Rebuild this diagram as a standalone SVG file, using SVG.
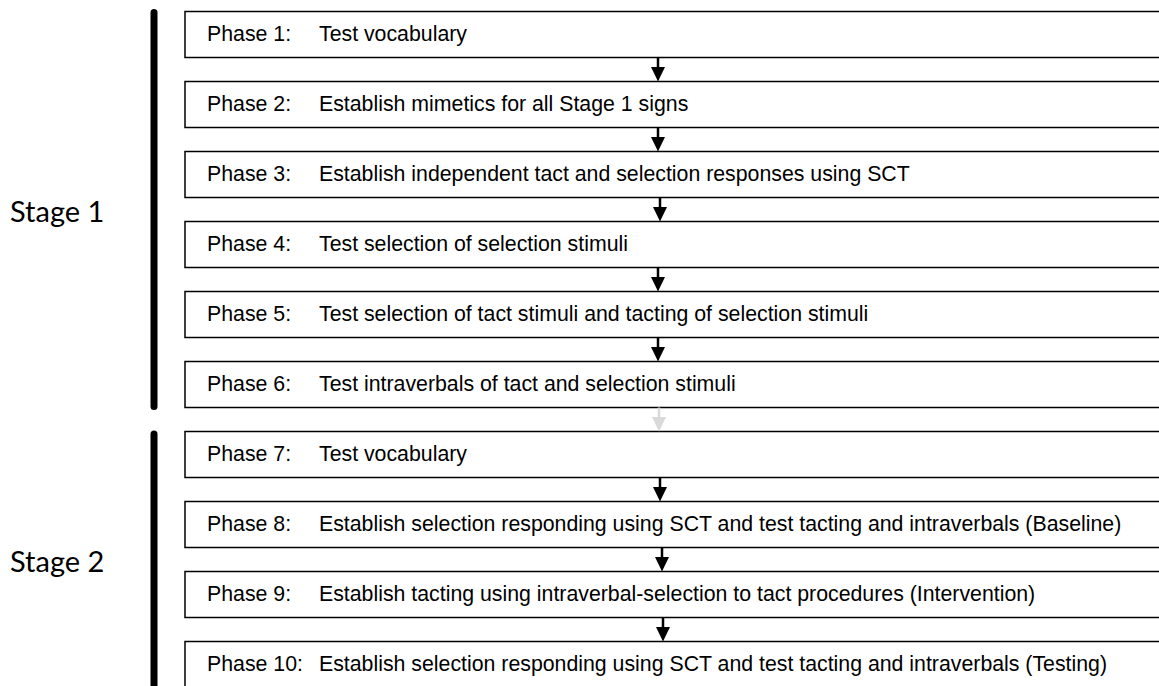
<svg xmlns="http://www.w3.org/2000/svg" width="1159" height="686" viewBox="0 0 1159 686">
<defs>
<style>
.box{fill:#fff;stroke:#000;stroke-width:1.5}
.ph{font-family:"Liberation Sans",Arial,sans-serif;font-size:21.3px;fill:#000}
.stage{font-family:Lato,"Noto Sans",sans-serif;font-size:29px;fill:#000}
.bar{stroke:#000;stroke-width:7;stroke-linecap:round;fill:none}
.stem{stroke:#000;stroke-width:2.5}
.head{fill:#000}
.grey .stem{stroke:#d9d9d9}
.grey .head{fill:#d9d9d9}
</style>
</defs>
<rect width="1159" height="686" fill="#fff"/>
<g id="stage1">
<line class="bar" x1="154" y1="12.5" x2="154" y2="406.5"/>
<text class="stage" x="10" y="222">Stage 1</text>
</g>
<g id="stage2">
<line class="bar" x1="154" y1="434" x2="154" y2="700"/>
<text class="stage" x="10" y="572">Stage 2</text>
</g>
<g id="phase1"><rect class="box" x="185" y="11.5" width="1000" height="46"/><text class="ph" x="207" y="41">Phase 1:</text><text class="ph" x="319" y="41">Test vocabulary</text></g>
<g id="phase2"><rect class="box" x="185" y="81.5" width="1000" height="46"/><text class="ph" x="207" y="111">Phase 2:</text><text class="ph" x="319" y="111">Establish mimetics for all Stage 1 signs</text></g>
<g id="phase3"><rect class="box" x="185" y="151.5" width="1000" height="46"/><text class="ph" x="207" y="181">Phase 3:</text><text class="ph" x="319" y="181">Establish independent tact and selection responses using SCT</text></g>
<g id="phase4"><rect class="box" x="185" y="221.5" width="1000" height="46"/><text class="ph" x="207" y="251">Phase 4:</text><text class="ph" x="319" y="251">Test selection of selection stimuli</text></g>
<g id="phase5"><rect class="box" x="185" y="291.5" width="1000" height="46"/><text class="ph" x="207" y="321">Phase 5:</text><text class="ph" x="319" y="321">Test selection of tact stimuli and tacting of selection stimuli</text></g>
<g id="phase6"><rect class="box" x="185" y="361.5" width="1000" height="46"/><text class="ph" x="207" y="391">Phase 6:</text><text class="ph" x="319" y="391">Test intraverbals of tact and selection stimuli</text></g>
<g id="phase7"><rect class="box" x="185" y="431.5" width="1000" height="46"/><text class="ph" x="207" y="461">Phase 7:</text><text class="ph" x="319" y="461">Test vocabulary</text></g>
<g id="phase8"><rect class="box" x="185" y="501.5" width="1000" height="46"/><text class="ph" x="207" y="531">Phase 8:</text><text class="ph" x="319" y="531">Establish selection responding using SCT and test tacting and intraverbals (Baseline)</text></g>
<g id="phase9"><rect class="box" x="185" y="571.5" width="1000" height="46"/><text class="ph" x="207" y="601">Phase 9:</text><text class="ph" x="319" y="601">Establish tacting using intraverbal-selection to tact procedures (Intervention)</text></g>
<g id="phase10"><rect class="box" x="185" y="641.5" width="1000" height="46"/><text class="ph" x="207" y="671">Phase 10:</text><text class="ph" x="319" y="671">Establish selection responding using SCT and test tacting and intraverbals (Testing)</text></g>
<g id="connectors">
<g><line class="stem" x1="658" y1="57.5" x2="658" y2="68"/><polygon class="head" points="651,67 665,67 658,81.5"/></g>
<g><line class="stem" x1="658" y1="127.5" x2="658" y2="138"/><polygon class="head" points="651,137 665,137 658,151.5"/></g>
<g><line class="stem" x1="660" y1="197.5" x2="660" y2="208"/><polygon class="head" points="653,207 667,207 660,221.5"/></g>
<g><line class="stem" x1="658" y1="267.5" x2="658" y2="278"/><polygon class="head" points="651,277 665,277 658,291.5"/></g>
<g><line class="stem" x1="658" y1="337.5" x2="658" y2="348"/><polygon class="head" points="651,347 665,347 658,361.5"/></g>
<g class="grey"><line class="stem" x1="659" y1="407.5" x2="659" y2="418"/><polygon class="head" points="652,417 666,417 659,431.5"/></g>
<g><line class="stem" x1="660" y1="477.5" x2="660" y2="488"/><polygon class="head" points="653,487 667,487 660,501.5"/></g>
<g><line class="stem" x1="662" y1="547.5" x2="662" y2="558"/><polygon class="head" points="655,557 669,557 662,571.5"/></g>
<g><line class="stem" x1="663" y1="617.5" x2="663" y2="628"/><polygon class="head" points="656,627 670,627 663,641.5"/></g>
</g>
</svg>
